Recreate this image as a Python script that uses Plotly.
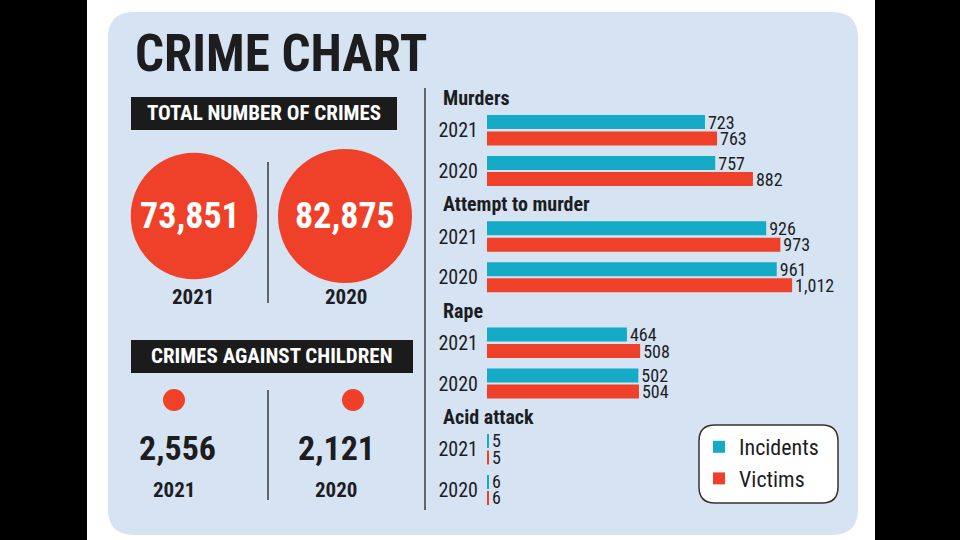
import plotly.graph_objects as go

# bar section data
categories = ["Murders", "Attempt to murder", "Rape", "Acid attack"]
years = ["2021", "2020"]
incidents_2021 = [723, 926, 464, 5]
victims_2021 = [763, 973, 508, 5]
incidents_2020 = [757, 961, 502, 6]
victims_2020 = [882, 1012, 504, 6]

# left side totals
total_crimes = [73851, 82875]
child_crimes = [2556, 2121]

W, H = 960, 540
RED = "#EF4129"
CYAN = "#15AAC6"
PANEL = "#D5E3F3"
INK = "#1d1d1f"
COND = "Roboto Condensed"

# layout of the bar rows (pixels)
ROW_START = 122
ROW_STEP = 106.3
OFF_INC21, OFF_VIC21, OFF_INC20, OFF_VIC20 = 0, 16.5, 41, 57
BAR_X0 = 487
PX_PER_UNIT = 0.3015


def px(x):
    return x / W


def py(y):
    return 1 - y / H


def rounded_rect(x0, y0, x1, y1, r):
    # path in paper coords, built from pixel values
    p = [
        f"M {px(x0 + r)} {py(y0)}",
        f"L {px(x1 - r)} {py(y0)}",
        f"Q {px(x1)} {py(y0)} {px(x1)} {py(y0 + r)}",
        f"L {px(x1)} {py(y1 - r)}",
        f"Q {px(x1)} {py(y1)} {px(x1 - r)} {py(y1)}",
        f"L {px(x0 + r)} {py(y1)}",
        f"Q {px(x0)} {py(y1)} {px(x0)} {py(y1 - r)}",
        f"L {px(x0)} {py(y0 + r)}",
        f"Q {px(x0)} {py(y0)} {px(x0 + r)} {py(y0)}",
        "Z",
    ]
    return " ".join(p)


bases = [ROW_START + ROW_STEP * k for k in range(len(categories))]

inc_x, inc_y, vic_x, vic_y = [], [], [], []
for k, b in enumerate(bases):
    inc_x += [incidents_2021[k], incidents_2020[k]]
    inc_y += [b + OFF_INC21, b + OFF_INC20]
    vic_x += [victims_2021[k], victims_2020[k]]
    vic_y += [b + OFF_VIC21, b + OFF_VIC20]

fig = go.Figure()
for name, xs, ys, col in [("Incidents", inc_x, inc_y, CYAN), ("Victims", vic_x, vic_y, RED)]:
    fig.add_trace(go.Bar(
        name=name, x=xs, y=ys, orientation="h", width=14,
        marker=dict(color=col, line=dict(width=0)),
        text=[f"{v:,}" for v in xs], textposition="outside",
        textfont=dict(family=COND, size=18, color=INK),
        constraintext="none", cliponaxis=False,
    ))

tickvals, ticktext = [], []
for b in bases:
    tickvals += [b + (OFF_INC21 + OFF_VIC21) / 2, b + (OFF_INC20 + OFF_VIC20) / 2]
    ticktext += years

shapes = [
    # white page between the black side bars
    dict(type="rect", xref="paper", yref="paper", x0=px(87), x1=px(875), y0=0, y1=1,
         fillcolor="white", line=dict(width=0), layer="below"),
    dict(type="path", xref="paper", yref="paper", path=rounded_rect(108, 12, 858, 535, 26),
         fillcolor=PANEL, line=dict(width=0), layer="below"),
    # dividers
    dict(type="line", xref="paper", yref="paper", x0=px(425), x1=px(425), y0=py(88), y1=py(510),
         line=dict(color="#3a3a3a", width=1.5)),
    dict(type="line", xref="paper", yref="paper", x0=px(268), x1=px(268), y0=py(162), y1=py(303),
         line=dict(color="#3a3a3a", width=1.5)),
    dict(type="line", xref="paper", yref="paper", x0=px(268), x1=px(268), y0=py(390), y1=py(500),
         line=dict(color="#3a3a3a", width=1.5)),
    # black label boxes
    dict(type="rect", xref="paper", yref="paper", x0=px(131), x1=px(397), y0=py(130), y1=py(97),
         fillcolor="#1b1b1b", line=dict(width=0)),
    dict(type="rect", xref="paper", yref="paper", x0=px(131), x1=px(413), y0=py(373), y1=py(340),
         fillcolor="#1b1b1b", line=dict(width=0)),
    # legend box
    dict(type="path", xref="paper", yref="paper", path=rounded_rect(699, 425, 838, 503, 16),
         fillcolor="white", line=dict(color="#333", width=1.5), layer="below"),
]

# total crime bubbles, area scaled by value
big_cx = [194, 345]
big_cy = 216
max_r = 67
for cx, v in zip(big_cx, total_crimes):
    r = max_r * (v / max(total_crimes)) ** 0.5
    shapes.append(dict(type="circle", xref="paper", yref="paper",
                       x0=px(cx - r), x1=px(cx + r), y0=py(big_cy + r), y1=py(big_cy - r),
                       fillcolor=RED, line=dict(width=0)))

small_cx = [174, 353]
for cx in small_cx:
    shapes.append(dict(type="circle", xref="paper", yref="paper",
                       x0=px(cx - 11), x1=px(cx + 11), y0=py(411), y1=py(389),
                       fillcolor=RED, line=dict(width=0)))

annotations = [
    dict(x=px(133), y=py(54), text="<b>CRIME CHART</b>", xanchor="left",
         font=dict(family=COND, size=51, color=INK)),
    dict(x=px(264), y=py(113), text="<b>TOTAL NUMBER OF CRIMES</b>",
         font=dict(family=COND, size=21, color="white")),
    dict(x=px(272), y=py(356), text="<b>CRIMES AGAINST CHILDREN</b>",
         font=dict(family=COND, size=21, color="white")),
]
for cx, v, yr in zip([190, 345], total_crimes, years):
    annotations.append(dict(x=px(cx), y=py(216), text=f"<b>{v:,}</b>",
                            font=dict(family=COND, size=36, color="white")))
for cx, yr in zip([193, 346], years):
    annotations.append(dict(x=px(cx), y=py(297), text=f"<b>{yr}</b>",
                            font=dict(family=COND, size=21, color=INK)))
for cx, v in zip([177, 336], child_crimes):
    annotations.append(dict(x=px(cx), y=py(448), text=f"<b>{v:,}</b>",
                            font=dict(family=COND, size=34, color=INK)))
for cx, yr in zip([174, 336], years):
    annotations.append(dict(x=px(cx), y=py(490), text=f"<b>{yr}</b>",
                            font=dict(family=COND, size=21, color=INK)))
for b, cat in zip(bases, categories):
    annotations.append(dict(x=px(441), y=py(b - 24), text=f"<b>{cat}</b>", xanchor="left",
                            font=dict(family=COND, size=20, color=INK)))
for a in annotations:
    a.setdefault("xanchor", "center")
    a.update(xref="paper", yref="paper", yanchor="middle", showarrow=False)

fig.update_layout(
    width=W, height=H,
    margin=dict(l=0, r=0, t=0, b=0),
    paper_bgcolor="black",
    plot_bgcolor="rgba(0,0,0,0)",
    barmode="overlay",
    xaxis=dict(domain=[px(BAR_X0), 1], range=[0, (W - BAR_X0) / PX_PER_UNIT],
               visible=False, fixedrange=True),
    yaxis=dict(domain=[0, 1], range=[H, 0], showgrid=False, zeroline=False, showline=False,
               tickvals=tickvals, ticktext=ticktext, ticks="", ticklabelstandoff=8,
               tickfont=dict(family=COND, size=20, color=INK), fixedrange=True),
    showlegend=True,
    legend=dict(x=px(699), y=py(426), xanchor="left", yanchor="top",
                bgcolor="rgba(0,0,0,0)", borderwidth=0,
                font=dict(family=COND, size=22, color=INK), traceorder="normal"),
    shapes=shapes,
    annotations=annotations,
)

# the page body has a default 8px margin; drop it so the figure sits at the corner
fig.write_html("out.html", config={"displayModeBar": False},
               post_script="document.body.style.margin = '0';")
